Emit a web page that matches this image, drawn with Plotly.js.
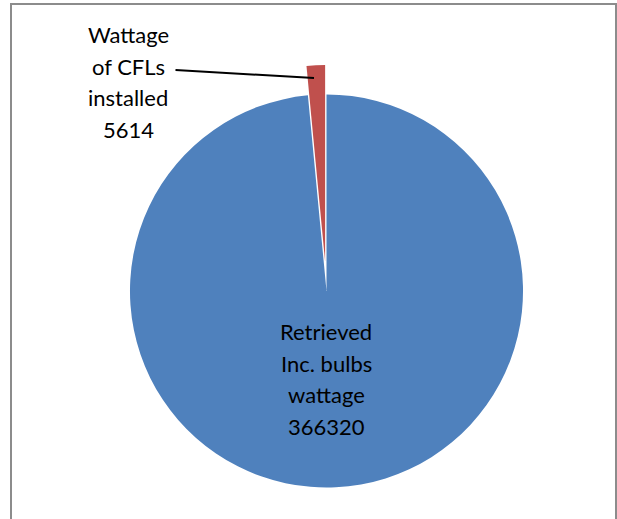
<!DOCTYPE html>
<html>
<head>
<meta charset="utf-8">
<script src="https://cdn.plot.ly/plotly-3.0.1.min.js"></script>
<style>
  html, body { margin: 0; padding: 0; background: #ffffff; }
  #chart { width: 617px; height: 519px; }
</style>
</head>
<body>
<div id="chart"></div>
<script>
// Wattage comparison: retrieved incandescent bulbs vs. installed CFLs
const labelLines = [
  ['Retrieved', 'Inc. bulbs', 'wattage'],
  ['Wattage', 'of CFLs', 'installed']
];
const labels = labelLines.map(l => l.join(' '));
const values = [366320, 5614];
const colors = ['#4f81bd', '#c0504d'];
const pulls = [0, 0.15];

const W = 617, H = 519;
const fontFamily = 'Lato, "Open Sans", sans-serif';
const lineGap = 31.5;

// Each data label is stacked line by line (name lines, then the value)
function labelAnnotations(idx, cx, cy) {
  const lines = labelLines[idx].concat([String(values[idx])]);
  const top = cy - (lines.length - 1) * lineGap / 2;
  return lines.map((t, k) => ({
    text: t,
    xref: 'paper', yref: 'paper',
    x: cx / W, y: 1 - (top + k * lineGap) / H,
    xanchor: 'center', yanchor: 'middle',
    showarrow: false,
    font: { family: fontFamily, size: 22, color: '#000000' }
  }));
}

const annotations = []
  .concat(labelAnnotations(0, 326, 379))
  .concat(labelAnnotations(1, 128, 82));

// leader line from the CFL label to its slice
annotations.push({
  xref: 'paper', yref: 'paper', axref: 'pixel', ayref: 'pixel',
  x: 314 / W, y: 1 - 78 / H,
  ax: -140, ay: -8,
  text: '', showarrow: true, arrowhead: 0, arrowwidth: 2, arrowcolor: '#000000'
});

const trace = {
  type: 'pie',
  labels: labels,
  values: values,
  sort: false,
  direction: 'clockwise',
  rotation: 0,
  pull: pulls,
  marker: { colors: colors, line: { width: 0 } },
  textinfo: 'none',
  hoverinfo: 'label+value',
  domain: { x: [100.5 / W, 552.5 / W], y: [2 / H, 454 / H] }
};

const layout = {
  width: W,
  height: H,
  margin: { l: 0, r: 0, t: 0, b: 0 },
  paper_bgcolor: '#ffffff',
  showlegend: false,
  annotations: annotations,
  shapes: [{
    type: 'rect', xref: 'paper', yref: 'paper',
    x0: 11 / W, x1: 616 / W, y0: -0.05, y1: 1 - 4 / H,
    line: { color: '#8c8c8c', width: 2 }, fillcolor: 'rgba(0,0,0,0)'
  }]
};

Plotly.newPlot('chart', [trace], layout, { displayModeBar: false, staticPlot: true });
</script>
</body>
</html>
